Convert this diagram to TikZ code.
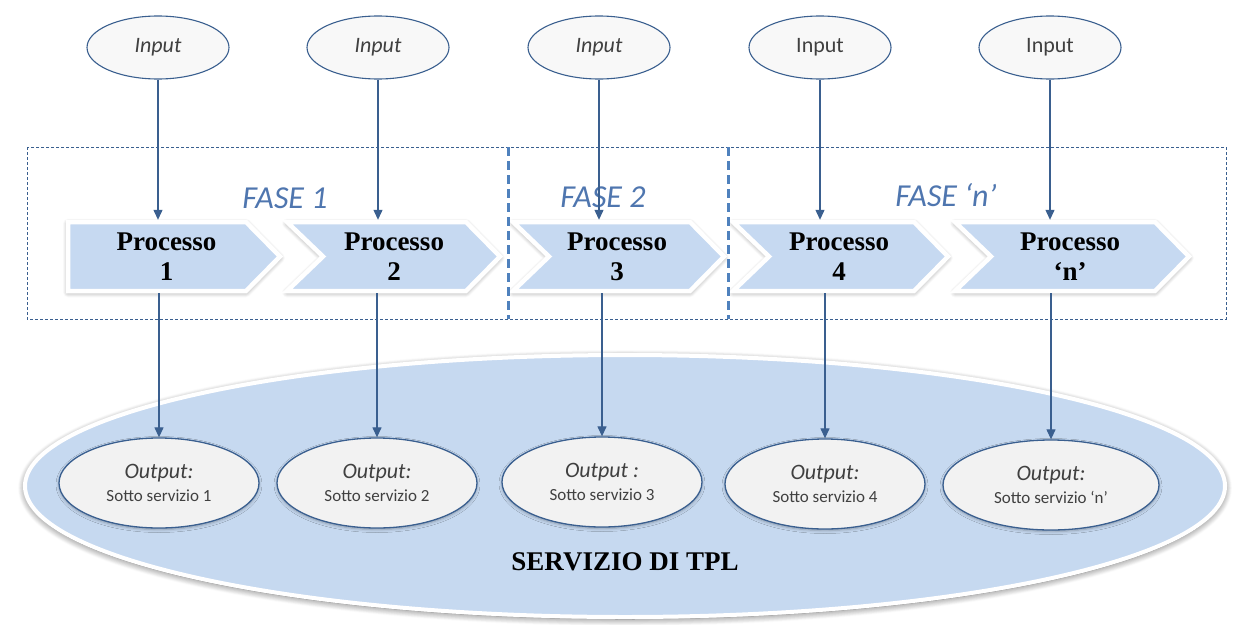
\documentclass[tikz,border=0pt]{standalone}
\usepackage{fontspec}
\setmainfont{Liberation Serif}
\newfontfamily\calfont{Carlito}
\usetikzlibrary{shapes.geometric,arrows.meta,shadows.blur}
\definecolor{chevfill}{HTML}{C6D9F1}
\definecolor{servfill}{HTML}{C6D9F0}
\definecolor{lineblue}{HTML}{3A5F8F}
\definecolor{faseblue}{HTML}{4F76AF}
\definecolor{sepblue}{HTML}{4F81BD}
\definecolor{outfill}{HTML}{F2F2F2}
\definecolor{infill}{HTML}{F8F8F8}
\definecolor{txtgray}{HTML}{404040}
\tikzset{
  inellipse/.style={ellipse, draw=lineblue, line width=1.1pt, fill=infill,
    minimum width=142pt, minimum height=63pt, inner sep=0pt,
    font=\calfont\fontsize{22}{26}\selectfont, text=txtgray},
  outellipse/.style={ellipse, draw=lineblue, line width=1.3pt, fill=outfill,
    minimum width=200pt, minimum height=90pt, inner sep=0pt, align=center,
    text=txtgray, font=\calfont\fontsize{17}{23}\selectfont,
    blur shadow={shadow xshift=0pt, shadow yshift=-1.5pt, shadow blur radius=3pt, shadow blur steps=6, shadow opacity=30}},
  servellipse/.style={ellipse, draw=white, line width=4pt, fill=servfill,
    minimum width=1200pt, minimum height=262pt, inner sep=0pt,
    blur shadow={shadow xshift=0pt, shadow yshift=-2pt, shadow blur radius=7pt, shadow blur steps=10, shadow opacity=60}},
  chev/.style={draw=white, line width=4.5pt, fill=chevfill,
    blur shadow={shadow xshift=0pt, shadow yshift=-1.5pt, shadow blur radius=5pt, shadow blur steps=8, shadow opacity=45}},
  procnode/.style={rectangle, minimum width=150pt, minimum height=73pt, inner sep=0pt,
    align=center, font=\fontsize{27}{30}\selectfont\bfseries, text=black},
  fase/.style={font=\calfont\itshape\fontsize{32}{36}\selectfont, text=faseblue, inner sep=0pt},
  arr/.style={draw=lineblue, line width=1.2pt, -{Triangle[length=10pt,width=9pt]}},
  frame/.style={draw=lineblue, line width=1pt, dash pattern=on 3pt off 2pt},
  sepline/.style={draw=sepblue, line width=3pt, dash pattern=on 9pt off 5pt},
  servtext/.style={font=\fontsize{27}{30}\selectfont\bfseries, text=black, inner sep=0pt}
}
\newcommand\chevshape[3]{\path[chev] (#1,222) -- ({#2-34},222) -- (#2,256.5) -- ({#2-34},291) -- (#1,291) -- ({#1+#3},256.5) -- cycle;}
\newcommand\outtext[2]{{\itshape\fontsize{22}{23}\selectfont #1}\\#2}
\begin{document}
\begin{tikzpicture}[x=1pt,y=-1pt]
\useasboundingbox (0,0) rectangle (1239,624);
% big service ellipse
\node[servellipse] (serv) at (625,486) {};
\node[servtext] (tpl) at (625,562) {SERVIZIO DI TPL};
% outputs
\node[outellipse] (o1) at (159,483) {\outtext{Output:}{Sotto servizio 1}};
\node[outellipse] (o2) at (377,483) {\outtext{Output:}{Sotto servizio 2}};
\node[outellipse] (o3) at (602,482) {\outtext{Output :}{Sotto servizio 3}};
\node[outellipse] (o4) at (825,484) {\outtext{Output:}{Sotto servizio 4}};
\node[outellipse, minimum width=216pt] (o5) at (1051,485) {\outtext{Output:}{Sotto servizio ‘n’}};
% phase frame
\draw[frame] (27,147) rectangle (1226,319);
% chevrons
\chevshape{68}{280}{0}
\chevshape{287}{500}{36}
\chevshape{513}{724}{36}
\chevshape{733}{948}{36}
\chevshape{955}{1189}{36}
% phase separators
\draw[sepline] (508,147) -- (508,319);
\draw[sepline] (728,147) -- (728,319);
% process labels
\node[procnode] (p1) at (166.5,256.5) {Processo\\1};
\node[procnode] (p2) at (394,256.5) {Processo\\2};
\node[procnode] (p3) at (617,256.5) {Processo\\3};
\node[procnode] (p4) at (839,256.5) {Processo\\4};
\node[procnode] (p5) at (1070,256.5) {Processo\\‘n’};
% phase labels
\node[fase] (f1) at (285,198) {FASE 1};
\node[fase] (f2) at (603,197) {FASE 2};
\node[fase] (f3) at (946,195) {FASE ‘n’};
% inputs
\node[inellipse] (i1) at (158,47.5) {\itshape Input};
\node[inellipse] (i2) at (378,47.5) {\itshape Input};
\node[inellipse] (i3) at (599,47.5) {\itshape Input};
\node[inellipse] (i4) at (820,47.5) {Input};
\node[inellipse] (i5) at (1050,47.5) {Input};
% arrows inputs -> processes -> outputs
\foreach \k in {1,...,5}{
  \draw[arr] (i\k.south) -- (i\k.south |- p\k.north);
  \draw[arr] (o\k.north |- p\k.south) -- (o\k.north);
}
\end{tikzpicture}
\end{document}
